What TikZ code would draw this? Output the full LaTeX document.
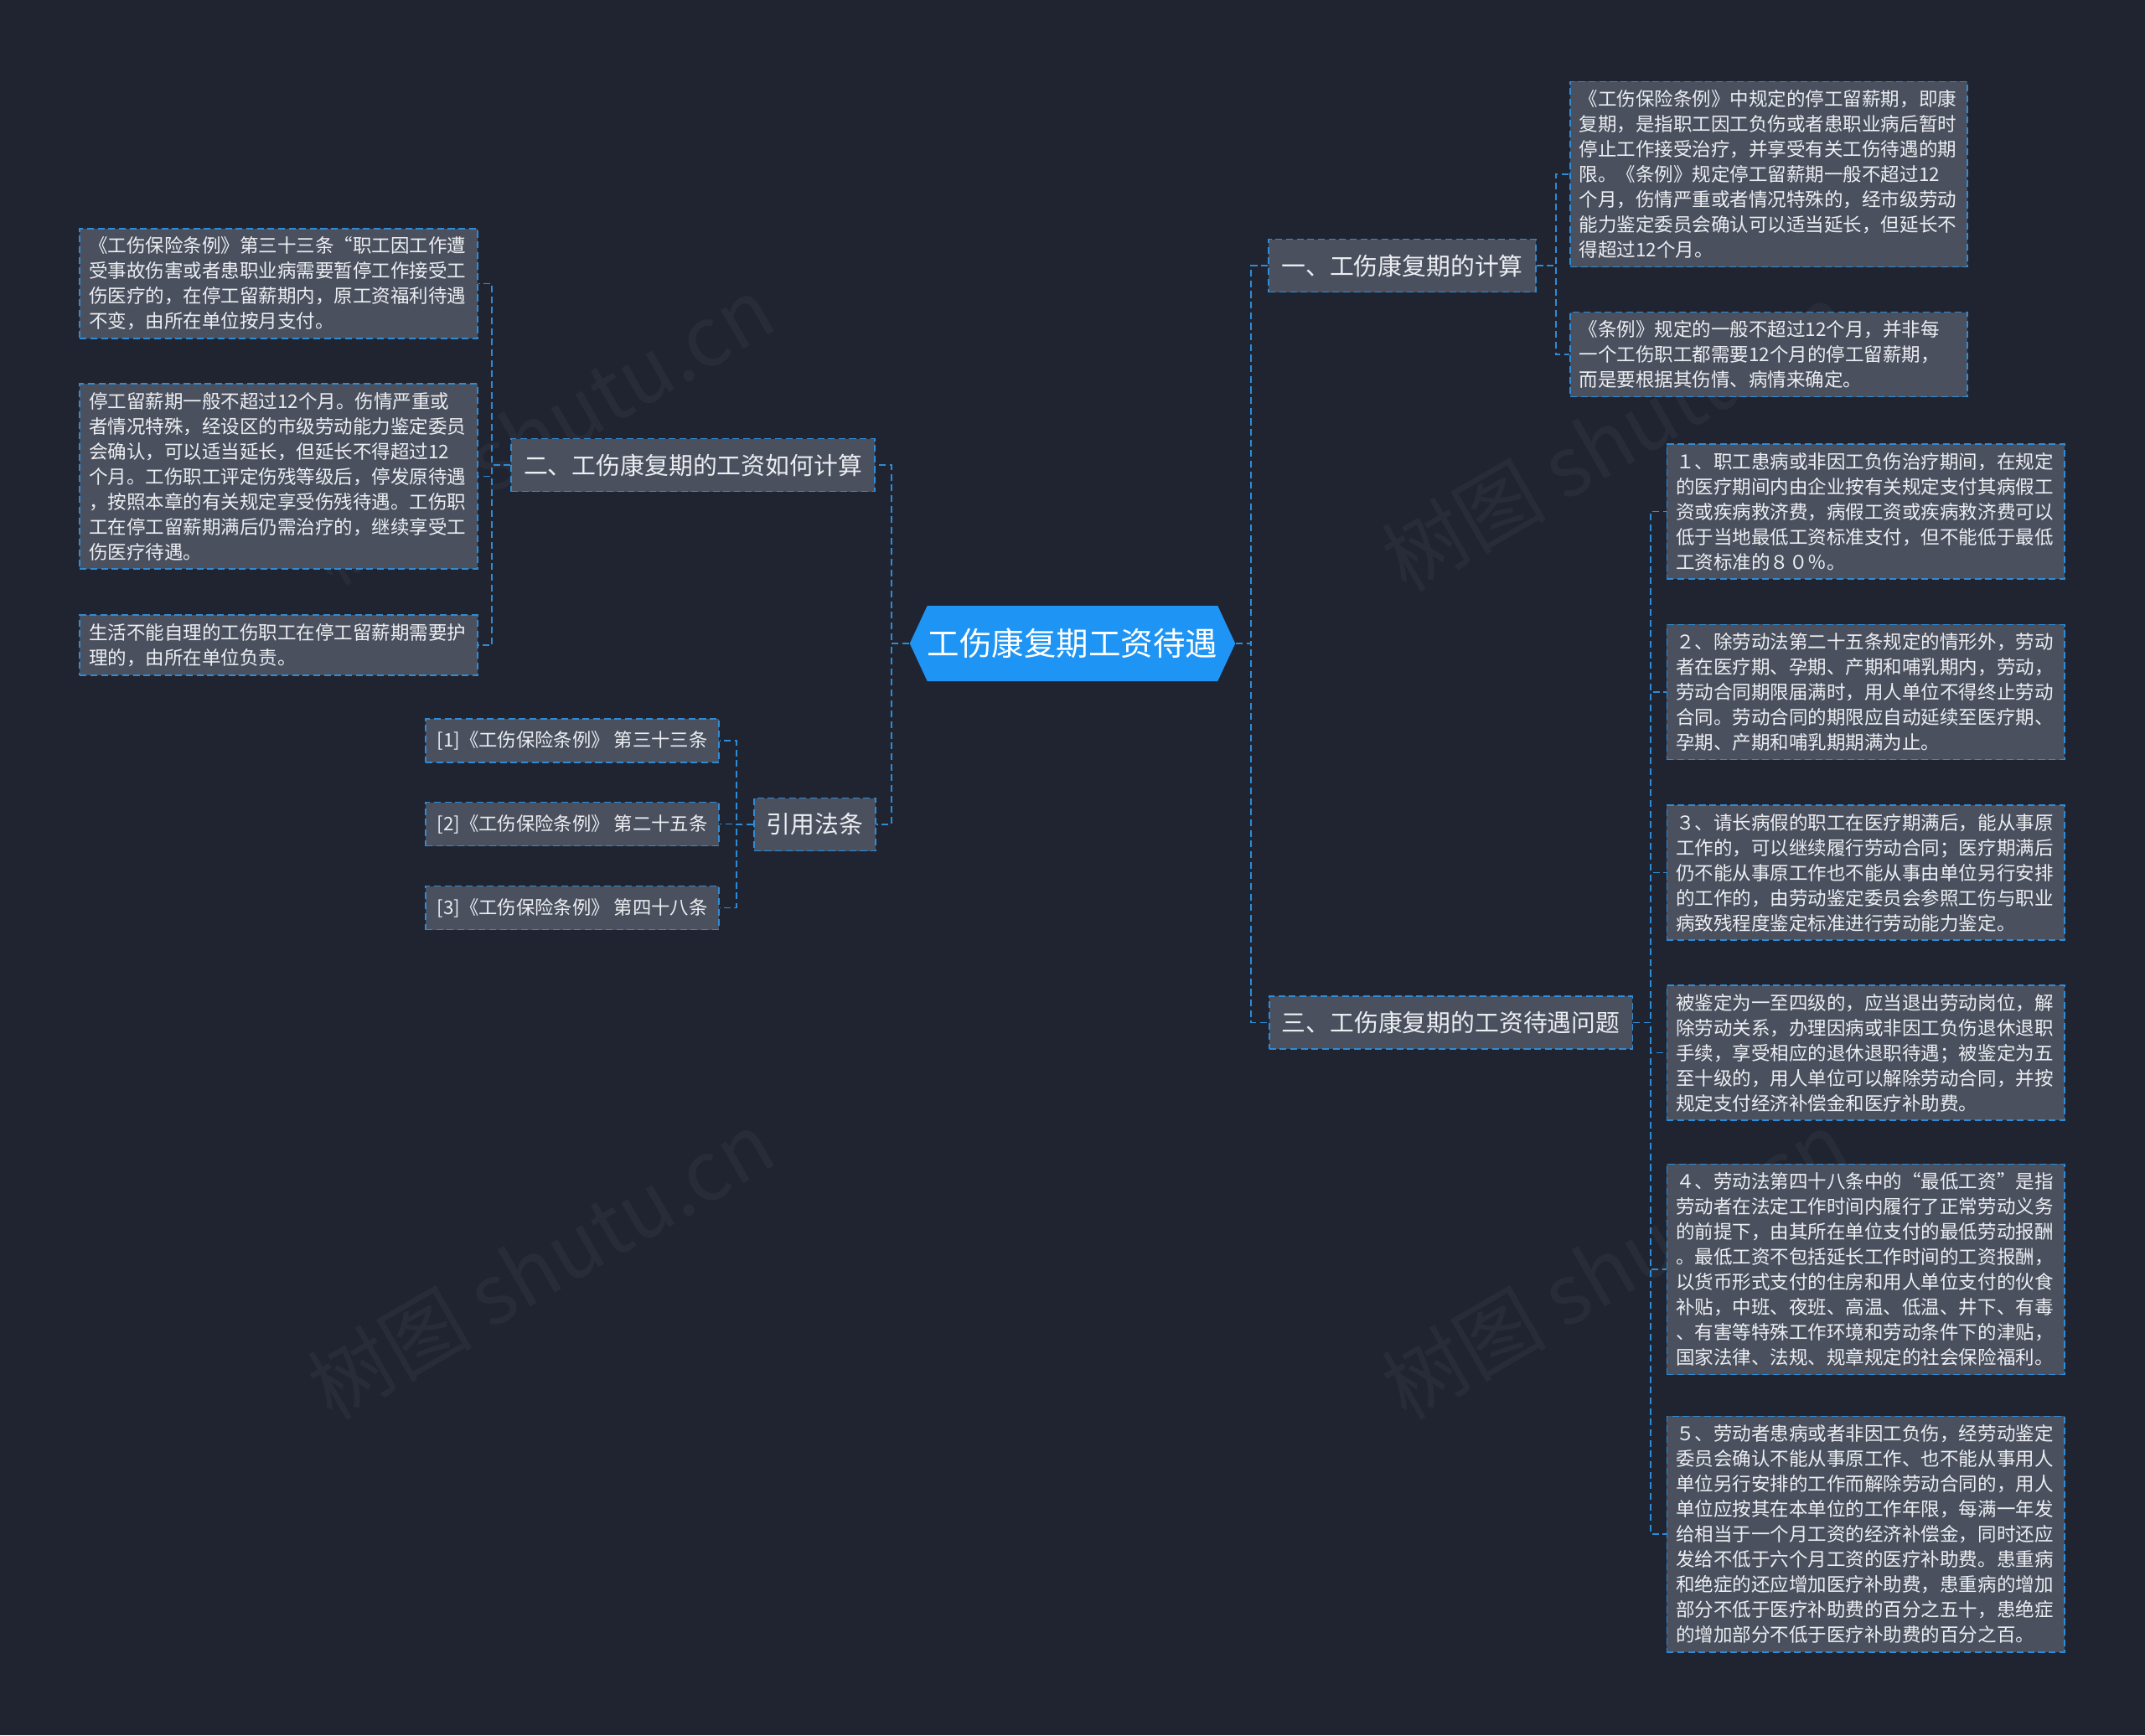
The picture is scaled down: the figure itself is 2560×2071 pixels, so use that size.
\documentclass[tikz,border=0pt]{standalone}
\usepackage{fontspec}
\setmainfont{Noto Sans CJK SC}
\usetikzlibrary{shapes.symbols}
\definecolor{bgdark}{RGB}{32,36,48}
\definecolor{boxgray}{RGB}{74,80,94}
\definecolor{linkblue}{RGB}{45,140,215}
\definecolor{rootblue}{RGB}{30,148,245}
\definecolor{txtlight}{RGB}{236,238,242}

\begin{document}
\begin{tikzpicture}[x=0.01cm, y=-0.01cm,
    box/.style={draw=linkblue, fill=boxgray, dash pattern=on 2.3pt off 1.3pt, line width=0.5pt, text=txtlight},
    leaf/.style={box, align=left, text width=4.52cm, inner xsep=0.11cm, inner ysep=0.1cm, font=\fontsize{6.4pt}{8.54pt}\selectfont},
    cite/.style={box, minimum width=3.5cm, minimum height=0.52cm, inner xsep=0.12cm, font=\fontsize{6.35pt}{7pt}\selectfont},
    topic/.style={box, minimum height=0.63cm, inner xsep=0.15cm, font=\fontsize{8.2pt}{10pt}\selectfont},
    root/.style={signal, signal to=east and west, signal pointer angle=130, fill=rootblue, text=white, minimum width=3.88cm, minimum height=0.9cm, inner sep=0pt, font=\fontsize{10.95pt}{13pt}\selectfont},
    link/.style={draw=linkblue, dash pattern=on 2.3pt off 1.3pt, line width=0.55pt},
    wm/.style={text=white, opacity=0.04, font=\fontsize{28pt}{30pt}\selectfont, rotate=30}]
    \useasboundingbox (0,0) rectangle (2560,2071);
    \fill[bgdark] (0,0) rectangle (2560,2071);
    \node[wm] (wm1) at (645,514) {树图 shutu.cn};
    \node[wm] (wm2) at (645,1510) {树图 shutu.cn};
    \node[wm] (wm3) at (1927,522) {树图 shutu.cn};
    \node[wm] (wm4) at (1927,1510) {树图 shutu.cn};

    \node[root] (root) at (1280,768) {工伤康复期工资待遇};

    \node[topic] (b1) at (1673.5,317) {一、工伤康复期的计算};
    \node[topic] (b2) at (827,555) {二、工伤康复期的工资如何计算};
    \node[topic] (b3) at (972.5,984) {引用法条};
    \node[topic] (b4) at (1731.5,1220.5) {三、工伤康复期的工资待遇问题};

    \node[leaf] (l1a) at (2111,208) {《工伤保险条例》中规定的停工留薪期，即康\\复期，是指职工因工负伤或者患职业病后暂时\\停止工作接受治疗，并享受有关工伤待遇的期\\限。《条例》规定停工留薪期一般不超过12\\个月，伤情严重或者情况特殊的，经市级劳动\\能力鉴定委员会确认可以适当延长，但延长不\\得超过12个月。};
    \node[leaf] (l1b) at (2111,423) {《条例》规定的一般不超过12个月，并非每\\一个工伤职工都需要12个月的停工留薪期，\\而是要根据其伤情、病情来确定。};

    \node[leaf] (l2a) at (332.5,338.5) {《工伤保险条例》第三十三条“职工因工作遭\\受事故伤害或者患职业病需要暂停工作接受工\\伤医疗的，在停工留薪期内，原工资福利待遇\\不变，由所在单位按月支付。};
    \node[leaf] (l2b) at (332.5,568.5) {停工留薪期一般不超过12个月。伤情严重或\\者情况特殊，经设区的市级劳动能力鉴定委员\\会确认，可以适当延长，但延长不得超过12\\个月。工伤职工评定伤残等级后，停发原待遇\\，按照本章的有关规定享受伤残待遇。工伤职\\工在停工留薪期满后仍需治疗的，继续享受工\\伤医疗待遇。};
    \node[leaf] (l2c) at (332.5,770) {生活不能自理的工伤职工在停工留薪期需要护\\理的，由所在单位负责。};

    \node[cite] (r1) at (683,884) {[1]《工伤保险条例》 第三十三条};
    \node[cite] (r2) at (683,983.5) {[2]《工伤保险条例》 第二十五条};
    \node[cite] (r3) at (683,1083.5) {[3]《工伤保险条例》 第四十八条};

    \node[leaf] (l4a) at (2226.5,610.5) {１、职工患病或非因工负伤治疗期间，在规定\\的医疗期间内由企业按有关规定支付其病假工\\资或疾病救济费，病假工资或疾病救济费可以\\低于当地最低工资标准支付，但不能低于最低\\工资标准的８０％。};
    \node[leaf] (l4b) at (2226.5,826) {２、除劳动法第二十五条规定的情形外，劳动\\者在医疗期、孕期、产期和哺乳期内，劳动，\\劳动合同期限届满时，用人单位不得终止劳动\\合同。劳动合同的期限应自动延续至医疗期、\\孕期、产期和哺乳期期满为止。};
    \node[leaf] (l4c) at (2226.5,1041.5) {３、请长病假的职工在医疗期满后，能从事原\\工作的，可以继续履行劳动合同；医疗期满后\\仍不能从事原工作也不能从事由单位另行安排\\的工作的，由劳动鉴定委员会参照工伤与职业\\病致残程度鉴定标准进行劳动能力鉴定。};
    \node[leaf] (l4d) at (2226.5,1256.5) {被鉴定为一至四级的，应当退出劳动岗位，解\\除劳动关系，办理因病或非因工负伤退休退职\\手续，享受相应的退休退职待遇；被鉴定为五\\至十级的，用人单位可以解除劳动合同，并按\\规定支付经济补偿金和医疗补助费。};
    \node[leaf] (l4e) at (2226.5,1515) {４、劳动法第四十八条中的“最低工资”是指\\劳动者在法定工作时间内履行了正常劳动义务\\的前提下，由其所在单位支付的最低劳动报酬\\。最低工资不包括延长工作时间的工资报酬，\\以货币形式支付的住房和用人单位支付的伙食\\补贴，中班、夜班、高温、低温、井下、有毒\\、有害等特殊工作环境和劳动条件下的津贴，\\国家法律、法规、规章规定的社会保险福利。};
    \node[leaf] (l4f) at (2226.5,1831) {５、劳动者患病或者非因工负伤，经劳动鉴定\\委员会确认不能从事原工作、也不能从事用人\\单位另行安排的工作而解除劳动合同的，用人\\单位应按其在本单位的工作年限，每满一年发\\给相当于一个月工资的经济补偿金，同时还应\\发给不低于六个月工资的医疗补助费。患重病\\和绝症的还应增加医疗补助费，患重病的增加\\部分不低于医疗补助费的百分之五十，患绝症\\的增加部分不低于医疗补助费的百分之百。};

    \draw[link] (root.east) -- ++(18,0) |- (b1.west);
    \draw[link] (root.east) -- ++(18,0) |- (b4.west);
    \draw[link] (root.west) -- ++(-21,0) |- (b2.east);
    \draw[link] (root.west) -- ++(-21,0) |- (b3.east);

    \draw[link] (b1.east) -- ++(23,0) |- (l1a.west);
    \draw[link] (b1.east) -- ++(23,0) |- (l1b.west);

    \draw[link] (b2.west) -- ++(-22,0) |- (l2a.east);
    \draw[link] (b2.west) -- ++(-22,0) |- (l2b.east);
    \draw[link] (b2.west) -- ++(-22,0) |- (l2c.east);

    \draw[link] (b3.west) -- ++(-20,0) |- (r1.east);
    \draw[link] (b3.west) -- ++(-20,0) |- (r2.east);
    \draw[link] (b3.west) -- ++(-20,0) |- (r3.east);

    \draw[link] (b4.east) -- ++(21,0) |- (l4a.west);
    \draw[link] (b4.east) -- ++(21,0) |- (l4b.west);
    \draw[link] (b4.east) -- ++(21,0) |- (l4c.west);
    \draw[link] (b4.east) -- ++(21,0) |- (l4d.west);
    \draw[link] (b4.east) -- ++(21,0) |- (l4e.west);
    \draw[link] (b4.east) -- ++(21,0) |- (l4f.west);
\end{tikzpicture}
\end{document}
